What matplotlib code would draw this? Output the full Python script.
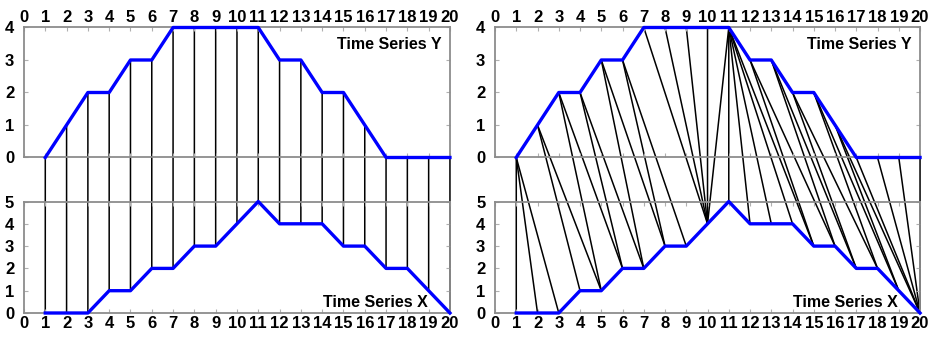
import matplotlib
matplotlib.use('Agg')
import matplotlib.pyplot as plt
from matplotlib.patches import ConnectionPatch

# time index and the two series
t = list(range(1, 21))
series_y = [0, 1, 2, 2, 3, 3, 4, 4, 4, 4, 4, 3, 3, 2, 2, 1, 0, 0, 0, 0]
series_x = [0, 0, 0, 1, 1, 2, 2, 3, 3, 4, 5, 4, 4, 4, 3, 3, 2, 2, 1, 0]

# euclidean panel: point i of Y goes to point i of X
euclid_pairs = [(i, i) for i in t]

# DTW panel: (index in Y, index in X), 1-based
dtw_pairs = [(1, 1), (1, 2), (1, 3), (2, 4), (2, 5), (3, 5), (3, 6),
             (4, 6), (4, 7), (5, 7), (5, 8), (6, 8), (6, 9),
             (7, 10), (8, 10), (9, 10), (10, 10), (11, 10), (11, 11),
             (11, 12), (11, 13), (11, 14), (11, 15), (12, 15), (12, 16),
             (13, 16), (13, 17), (14, 17), (14, 18), (15, 18), (15, 19),
             (16, 19), (16, 20), (17, 20), (18, 20), (19, 20), (20, 20)]

xticks = list(range(0, 21))
yticks_top = [0, 1, 2, 3, 4]
yticks_bot = [0, 1, 2, 3, 4, 5]

plt.rcParams['font.family'] = ['Liberation Sans', 'DejaVu Sans']
plt.rcParams['font.weight'] = 'bold'

BLUE = '#0000ff'
GREY = '#8c8c8c'

fig = plt.figure(figsize=(9.37, 3.39), dpi=100)


def style(ax, ylim, yticks, top):
    ax.set_xlim(0, 20)
    ax.set_ylim(*ylim)
    ax.set_xticks(xticks)
    ax.set_yticks(yticks)
    ax.set_facecolor('none')
    ax.set_zorder(2)
    for sp in ax.spines.values():
        sp.set_color(GREY)
        sp.set_linewidth(1.3)
    ax.tick_params(direction='in', length=3, width=0.8, color='#b0b0b0',
                   top=True, right=True, labelsize=12,
                   labeltop=top, labelbottom=not top)
    ax.tick_params(axis='x', pad=2)
    ax.tick_params(axis='y', pad=7)
    for lab in ax.get_xticklabels() + ax.get_yticklabels():
        lab.set_fontweight('bold')


def panel(left, width, pairs):
    ax_top = fig.add_axes([left, 0.5354, width, 0.3835])
    ax_bot = fig.add_axes([left, 0.0767, width, 0.3289])
    style(ax_top, (0, 4), yticks_top, True)
    style(ax_bot, (0, 5), yticks_bot, False)

    ax_top.plot(t, series_y, color=BLUE, lw=2.4, clip_on=False, zorder=5)
    ax_bot.plot(t, series_x, color=BLUE, lw=2.4, clip_on=False, zorder=5)

    for iy, ix in pairs:
        con = ConnectionPatch(xyA=(t[iy - 1], series_y[iy - 1]), coordsA='data',
                              axesA=ax_top,
                              xyB=(t[ix - 1], series_x[ix - 1]), coordsB='data',
                              axesB=ax_bot,
                              color='black', lw=1.1, zorder=1)
        fig.add_artist(con)

    ax_top.text(0.98, 0.93, 'Time Series Y', transform=ax_top.transAxes,
                ha='right', va='top', fontsize=11.5, fontweight='bold')
    ax_bot.text(0.947, 0.05, 'Time Series X', transform=ax_bot.transAxes,
                ha='right', va='baseline', fontsize=11.5, fontweight='bold')
    return ax_top, ax_bot


panel(0.0256, 0.4546, euclid_pairs)
panel(0.5283, 0.4536, dtw_pairs)

fig.savefig('out.png', dpi=100)
